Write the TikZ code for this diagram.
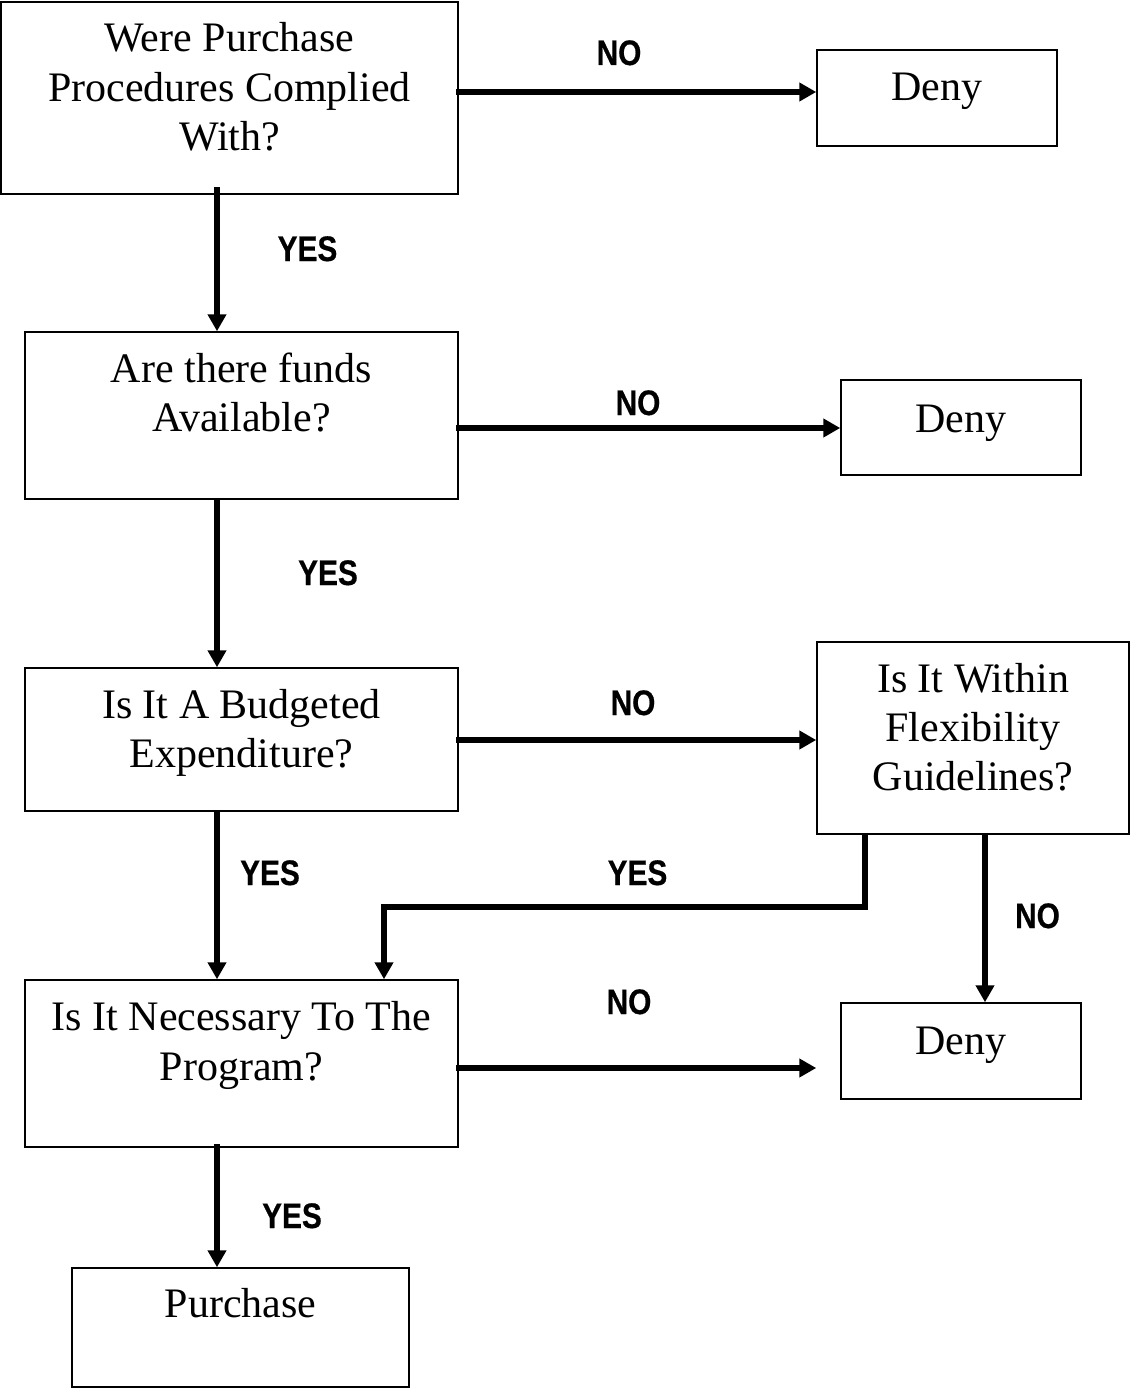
\documentclass[tikz,border=0pt]{standalone}
\usepackage{fontspec}
\usetikzlibrary{arrows.meta}
\newfontfamily\tnr{Liberation Serif}
\newfontface\arnb[FakeStretch=0.84,FakeBold=0.5]{Liberation Sans Bold}
\begin{document}
\begin{tikzpicture}[x=1pt,y=-1pt,
 box/.style={draw,line width=1.5pt,inner sep=0pt,rectangle},
 txt/.style={font=\tnr\fontsize{42}{48}\selectfont,anchor=base,inner sep=0pt},
 lbl/.style={font=\arnb\fontsize{35.5}{40}\selectfont,anchor=base,inner sep=0pt},
 arr/.style={line width=5.5pt,-{Triangle[length=17pt,width=18pt]}}]
\useasboundingbox (0,0) rectangle (1130,1389);
% boxes
\node[box,minimum width=457pt,minimum height=192pt] (b1) at (229.5,98) {};
\node[box,minimum width=240pt,minimum height=96pt] (d1) at (937,98) {};
\node[box,minimum width=433pt,minimum height=167pt] (b2) at (241.5,415.5) {};
\node[box,minimum width=240pt,minimum height=95pt] (d2) at (961,427.5) {};
\node[box,minimum width=433pt,minimum height=143pt] (b3) at (241.5,739.5) {};
\node[box,minimum width=312pt,minimum height=192pt] (fl) at (973,738) {};
\node[box,minimum width=433pt,minimum height=167pt] (b4) at (241.5,1063.5) {};
\node[box,minimum width=240pt,minimum height=96pt] (d3) at (961,1051) {};
\node[box,minimum width=337pt,minimum height=119pt] (pu) at (240.5,1327.5) {};
% texts
\node[txt] (b1t1) at (229.5,52) {Were Purchase};
\node[txt] (b1t2) at (229.5,101) {Procedures Complied};
\node[txt] (b1t3) at (229.5,150) {With?};
\node[txt] (d1t) at (937,100) {Deny};
\node[txt] (b2t1) at (241.5,382) {Are there funds};
\node[txt] (b2t2) at (241.5,431) {Available?};
\node[txt] (d2t) at (961,432) {Deny};
\node[txt] (b3t1) at (241.5,718) {Is It A Budgeted};
\node[txt] (b3t2) at (241.5,767) {Expenditure?};
\node[txt] (flt1) at (973,692) {Is It Within};
\node[txt] (flt2) at (973,741) {Flexibility};
\node[txt] (flt3) at (973,790) {Guidelines?};
\node[txt] (b4t1) at (241.5,1030.5) {Is It Necessary To The};
\node[txt] (b4t2) at (241.5,1080) {Program?};
\node[txt] (d3t) at (961,1054) {Deny};
\node[txt] (put) at (240.5,1317.5) {Purchase};
% labels
\node[lbl] (l1) at (619,65) {NO};
\node[lbl] (l2) at (307.5,261) {YES};
\node[lbl] (l3) at (638,415) {NO};
\node[lbl] (l4) at (328,585) {YES};
\node[lbl] (l5) at (633,715) {NO};
\node[lbl] (l6) at (270,885) {YES};
\node[lbl] (l7) at (637.5,885) {YES};
\node[lbl] (l8) at (1037.5,928) {NO};
\node[lbl] (l9) at (629,1014) {NO};
\node[lbl] (l10) at (292,1228) {YES};
% helper coordinates
\coordinate (xa) at (217,0);
\coordinate (xf1) at (865,0);
\coordinate (xf2) at (985,0);
\coordinate (xl) at (384,0);
\coordinate (ym) at (0,907);
\coordinate (y1) at (0,92);
\coordinate (y2) at (0,428);
\coordinate (y3) at (0,740);
\coordinate (y4) at (0,1068);
% connectors
\draw[arr,shorten <=-3pt] (b1.east |- y1) -- (d1.west |- y1);
\draw[arr,shorten <=-8pt] (b1.south -| xa) -- (b2.north -| xa);
\draw[arr,shorten <=-3pt] (b2.east |- y2) -- (d2.west |- y2);
\draw[arr,shorten <=-2pt] (b2.south -| xa) -- (b3.north -| xa);
\draw[arr,shorten <=-3pt] (b3.east |- y3) -- (fl.west |- y3);
\draw[arr] (b3.south -| xa) -- (b4.north -| xa);
\draw[arr,shorten <=-2pt] (fl.south -| xf1) -- (xf1 |- ym) -- (xl |- ym) -- (b4.north -| xl);
\draw[arr,shorten <=-2pt] (fl.south -| xf2) -- (d3.north -| xf2);
\draw[arr,shorten <=-3pt,shorten >=24pt] (b4.east |- y4) -- (d3.west |- y4);
\draw[arr,shorten <=-4pt] (b4.south -| xa) -- (pu.north -| xa);
\end{tikzpicture}
\end{document}
